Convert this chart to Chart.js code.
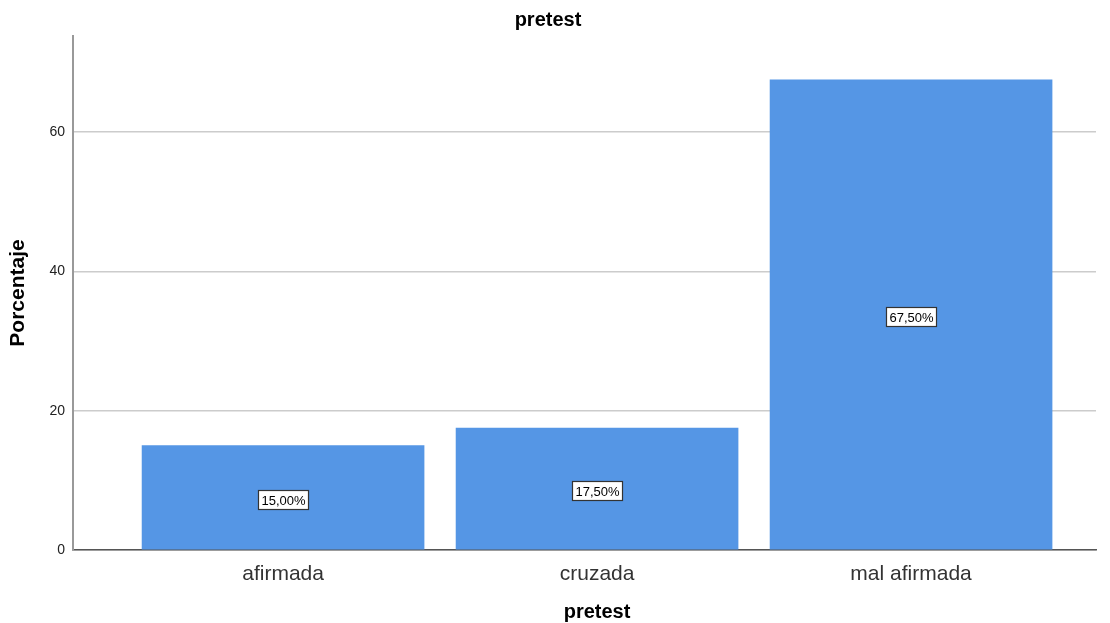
<!DOCTYPE html>
<html>
<head>
<meta charset="utf-8">
<script src="https://cdn.jsdelivr.net/npm/chart.js@4.4.1/dist/chart.umd.min.js"></script>
<style>
  html, body { margin: 0; padding: 0; background: #fff; }
  #wrap { width: 1110px; height: 623px; }
</style>
</head>
<body>
<div id="wrap"><canvas id="chart"></canvas></div>
<script>
// Data
const categories = ['afirmada', 'cruzada', 'mal afirmada'];
const percentages = [15.0, 17.5, 67.5];
const yTicks = [0, 20, 40, 60];
const xTitle = 'pretest';

const font = '"Liberation Sans", Arial, sans-serif';

// Value boxes in the middle of each bar + x axis title centred under the bars
const barLabels = {
    id: 'barLabels',
    afterDatasetsDraw(chart) {
        const ctx = chart.ctx;
        const meta = chart.getDatasetMeta(0);
        ctx.save();
        ctx.font = '13px ' + font;
        ctx.textAlign = 'center';
        ctx.textBaseline = 'middle';
        meta.data.forEach((bar, i) => {
            const text = percentages[i].toFixed(2).replace('.', ',') + '%';
            const w = Math.round(ctx.measureText(text).width + 6);
            const h = 19;
            const x0 = Math.round(bar.x - w / 2) + 0.5;
            const y0 = Math.round((bar.y + bar.base) / 2 - h / 2 + 2) + 0.5;
            ctx.fillStyle = '#ffffff';
            ctx.fillRect(x0, y0, w, h);
            ctx.strokeStyle = '#333333';
            ctx.lineWidth = 1.2;
            ctx.strokeRect(x0, y0, w, h);
            ctx.fillStyle = '#000000';
            ctx.fillText(text, x0 + w / 2, y0 + h / 2 + 1);
        });

        const xs = chart.scales.x;
        ctx.font = 'bold 20px ' + font;
        ctx.fillStyle = '#000';
        ctx.fillText(xTitle, xs.getPixelForValue((categories.length - 1) / 2), 612);
        ctx.restore();
    }
};

new Chart(document.getElementById('chart'), {
    type: 'bar',
    data: {
        datasets: [{
            data: categories.map((c, i) => ({ x: i, y: percentages[i] })),
            backgroundColor: '#5596e5',
            borderWidth: 0,
            barThickness: 282
        }]
    },
    options: {
        responsive: true,
        maintainAspectRatio: false,
        animation: false,
        layout: { padding: { left: 0, right: 14, top: 0, bottom: 0 } },
        plugins: {
            legend: { display: false },
            tooltip: { enabled: false },
            title: {
                display: true,
                text: 'pretest',
                color: '#000',
                font: { family: font, size: 20, weight: 'bold' },
                padding: { top: 8, bottom: 4 }
            }
        },
        scales: {
            x: {
                type: 'linear',
                offset: false,
                min: -0.669,
                max: 2.589,
                afterBuildTicks: (scale) => {
                    scale.ticks = categories.map((c, i) => ({ value: i }));
                },
                afterFit: (scale) => { scale.height = 73; },
                grid: { display: false, drawTicks: false, offset: false },
                border: { display: true, color: '#555555', width: 1.5 },
                ticks: {
                    color: '#333',
                    font: { family: font, size: 21 },
                    padding: 12,
                    callback: (v) => categories[v]
                }
            },
            y: {
                min: 0,
                max: 73.8,
                afterBuildTicks: (scale) => {
                    scale.ticks = yTicks.map(v => ({ value: v }));
                },
                afterFit: (scale) => { scale.width = 73; },
                grid: { color: '#cccccc', lineWidth: 1.5, drawTicks: false },
                border: { display: true, color: '#999999', width: 2 },
                ticks: {
                    color: '#222',
                    font: { family: font, size: 14 },
                    padding: 8
                },
                title: {
                    display: true,
                    text: 'Porcentaje',
                    color: '#000',
                    font: { family: font, size: 21, weight: 'bold' },
                    padding: { top: 6, bottom: 0 }
                }
            }
        }
    },
    plugins: [barLabels]
});
</script>
</body>
</html>
